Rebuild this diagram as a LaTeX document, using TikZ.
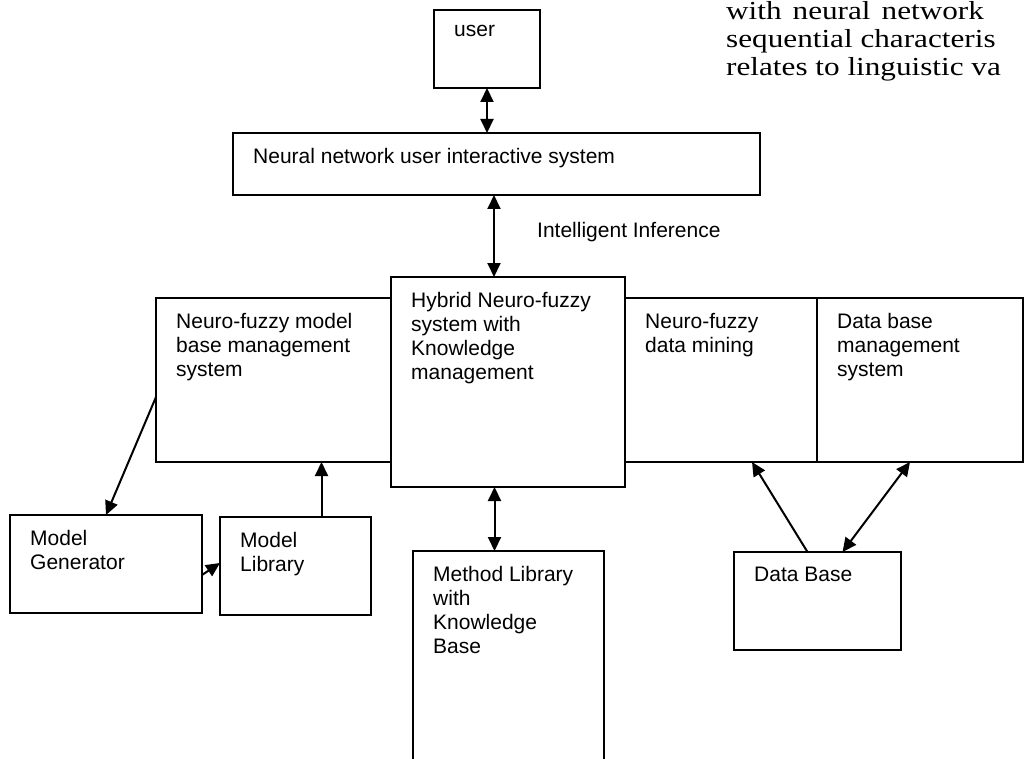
\documentclass[tikz,border=0pt]{standalone}
\usepackage{fontspec}
\setmainfont{Liberation Sans}
\newfontfamily\pageserif[FakeStretch=1.2]{Liberation Serif}
\usetikzlibrary{arrows.meta, positioning}

\begin{document}
\begin{tikzpicture}[x=1pt, y=-1pt,
  box/.style={draw, line width=1.3pt, anchor=north west, outer sep=0pt, inner sep=0pt},
  txt/.style={anchor=north west, inner xsep=20pt, inner ysep=15pt, align=left,
              font=\fontsize{21}{24}\selectfont},
  arrow/.style={-{Triangle[length=14pt,width=13pt]}, line width=2pt},
  dbl/.style={{Triangle[length=14pt,width=13pt]}-{Triangle[length=14pt,width=13pt]}, line width=2pt}]

  \useasboundingbox (0,0) rectangle (1024,759);
  \clip (0,0) rectangle (1024,759);

  % boxes
  \node[box, minimum width=106pt, minimum height=78pt, label={[txt]north west:user}] (user) at (434,10) {};
  \node[box, minimum width=527pt, minimum height=62pt,
        label={[txt]north west:Neural network user interactive system}] (ui) at (233,133) {};
  \node[box, minimum width=234pt, minimum height=210pt,
        label={[txt]north west:Hybrid Neuro-fuzzy\\system with\\Knowledge\\management}] (hyb) at (391,277) {};
  \node[box, minimum width=235pt, minimum height=164pt,
        label={[txt]north west:Neuro-fuzzy model\\base management\\system}] (nfm) at (156,298) {};
  \node[box, minimum width=192pt, minimum height=164pt,
        label={[txt]north west:Neuro-fuzzy\\data mining}] (dm) at (625,298) {};
  \node[box, minimum width=206pt, minimum height=164pt,
        label={[txt]north west:Data base\\management\\system}] (dbms) at (817,298) {};
  \node[box, minimum width=192pt, minimum height=98pt,
        label={[txt]north west:Model\\Generator}] (gen) at (10,515) {};
  \node[box, minimum width=151pt, minimum height=98pt,
        label={[txt]north west:Model\\Library}] (lib) at (220,517) {};
  \node[box, minimum width=191pt, minimum height=240pt,
        label={[txt]north west:Method Library\\with\\Knowledge\\Base}] (meth) at (413,551) {};
  \node[box, minimum width=167pt, minimum height=98pt,
        label={[txt]north west:Data Base}] (db) at (734,552) {};

  \node[anchor=west, inner sep=0pt, font=\fontsize{21}{24}\selectfont] (inf) at (537,232) {Intelligent Inference};

  % page text beside the figure
  \node[anchor=north west, inner sep=0pt, align=left, font=\pageserif\fontsize{26}{28}\selectfont] (para) at (726,1)
    {with\hspace{11pt}neural\hspace{11pt}network\\sequential characteris\\relates to linguistic va};

  % connectors
  \draw[dbl] (user.south) -- (user.south |- ui.north);
  \draw[dbl] ([xshift=-14pt]hyb.north |- ui.south) -- ([xshift=-14pt]hyb.north);
  \draw[dbl] ([xshift=-14pt]meth.north |- hyb.south) -- ([xshift=-14pt]meth.north);
  \draw[arrow] ([yshift=-99pt]nfm.north west) -- (gen.north);
  \draw[arrow] ([xshift=26pt]lib.north) -- ([xshift=26pt]lib.north |- nfm.south);
  \draw[arrow] ([yshift=-60pt]gen.north east) -- ([yshift=-46pt]lib.north west);
  \draw[arrow] ([xshift=-10pt]db.north) -- ([xshift=31pt]dm.south);
  \draw[dbl] ([xshift=-10pt]dbms.south) -- ([xshift=25pt]db.north);
\end{tikzpicture}
\end{document}
